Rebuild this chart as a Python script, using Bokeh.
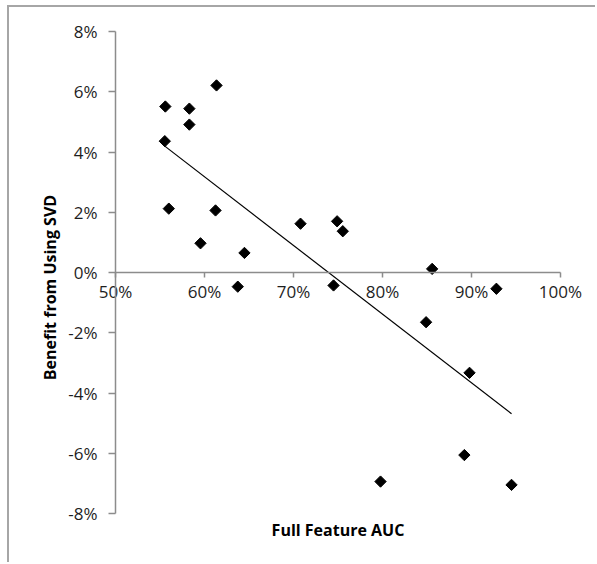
import numpy as np
from bokeh.plotting import figure
from bokeh.models import FixedTicker, PrintfTickFormatter, Label, Range1d
from bokeh.embed import file_html
from bokeh.resources import INLINE

# Full feature AUC (%) and benefit from using SVD (%)
auc = [55.6, 58.3, 58.3, 61.35, 55.54, 55.99, 61.24, 59.55, 64.49, 63.74,
       70.79, 74.9, 75.54, 85.58, 74.5, 92.8, 84.9, 89.78, 89.2, 79.78, 94.5]
benefit = [5.51, 5.44, 4.91, 6.21, 4.36, 2.12, 2.06, 0.97, 0.65, -0.47,
           1.62, 1.70, 1.37, 0.12, -0.43, -0.54, -1.65, -3.33, -6.06, -6.94, -7.05]
x_ticks = [50, 60, 70, 80, 90, 100]
y_ticks = [-8, -6, -4, -2, 0, 2, 4, 6, 8]
x_title = "Full Feature AUC"
y_title = "Benefit from Using SVD"

FONT = "Open Sans"
AXIS_COLOR = "#8c8c8c"
TICK_FONT_SIZE = "17px"
TEXT_COLOR = "#1e1e1e"

# the frame covers the whole chart box; the axes cross at (50%, 0%)
p = figure(width=588, height=557, output_backend="svg", toolbar_location=None,
           x_range=Range1d(38.09, 104.16), y_range=Range1d(-9.693, 8.797),
           min_border_left=0, min_border_right=0, min_border_top=0, min_border_bottom=0)
p.styles = {"margin-left": "7px", "margin-top": "5px",
            "border-left": "2px solid #a6a6a6", "border-top": "2px solid #a6a6a6"}
p.outline_line_color = None
p.grid.visible = False

p.xaxis.fixed_location = 0
p.xaxis.bounds = (50, 100)
p.xaxis.ticker = FixedTicker(ticks=x_ticks)
p.xaxis.formatter = PrintfTickFormatter(format="%d%%")
p.xaxis.major_tick_out = 5
p.xaxis.major_tick_in = 0
p.xaxis.major_label_standoff = 2

p.yaxis.fixed_location = 50
p.yaxis.bounds = (-8, 8)
p.yaxis.ticker = FixedTicker(ticks=y_ticks)
p.yaxis.formatter = PrintfTickFormatter(format="%d%%")
p.yaxis.major_tick_out = 7
p.yaxis.major_tick_in = 0
p.yaxis.major_label_standoff = 11

for ax in (p.xaxis, p.yaxis):
    ax.minor_tick_line_color = None
    ax.axis_line_color = AXIS_COLOR
    ax.axis_line_width = 1.5
    ax.major_tick_line_color = AXIS_COLOR
    ax.major_tick_line_width = 1.5
    ax.major_label_text_font = FONT
    ax.major_label_text_font_size = TICK_FONT_SIZE
    ax.major_label_text_color = TEXT_COLOR

# linear trend line
coef = np.polyfit(auc, benefit, 1)
tx = np.array([min(auc), max(auc)])
p.line(tx, np.polyval(coef, tx), line_color="black", line_width=1.2)

p.scatter(auc, benefit, marker="square", size=8, angle=np.pi / 4,
          fill_color="black", line_color="black")

p.add_layout(Label(x=75, y=-8, y_offset=-17, text=x_title, text_align="center",
                   text_baseline="middle", text_font=FONT, text_font_style="bold",
                   text_font_size="16px", text_color="black"))
p.add_layout(Label(x=50, y=0, x_offset=-65, y_offset=-15, text=y_title, angle=np.pi / 2,
                   text_align="center", text_baseline="middle", text_font=FONT,
                   text_font_style="bold", text_font_size="16px", text_color="black"))

open("out.html", "w").write(file_html(p, INLINE))
